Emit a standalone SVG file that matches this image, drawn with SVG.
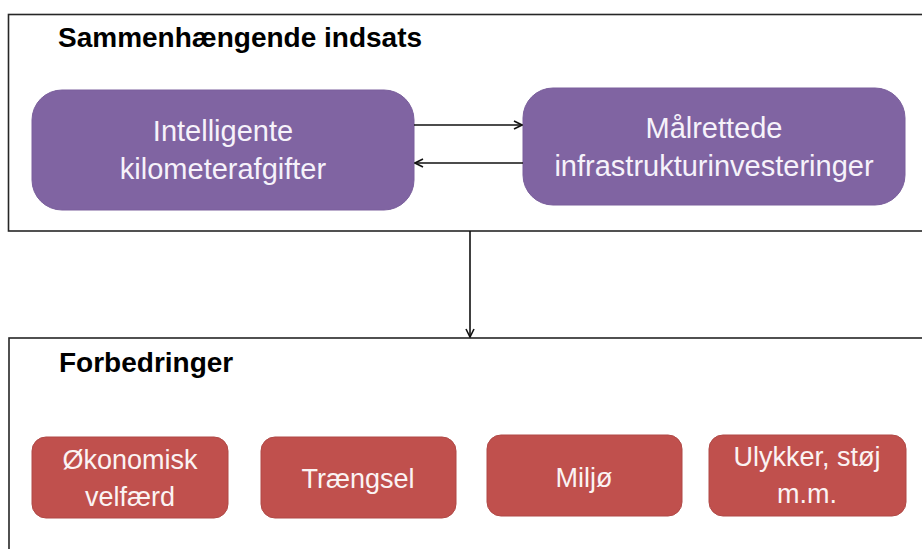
<svg xmlns="http://www.w3.org/2000/svg" width="922" height="549" viewBox="0 0 922 549">
<style>
.frame{fill:#fff;stroke:#262626;stroke-width:1.6}
.title{font-family:"Liberation Sans",Arial,sans-serif;font-weight:bold;font-size:28px;fill:#000}
.purple rect{fill:#8064A2;stroke:#7a5f9c;stroke-width:1}
.red rect{fill:#C0504D;stroke:#b04946;stroke-width:1}
.purple text{font-family:"Liberation Sans",Arial,sans-serif;font-size:29px;fill:#f6f2fa;text-anchor:middle}
.red text{font-family:"Liberation Sans",Arial,sans-serif;font-size:27px;fill:#fbf3f3;text-anchor:middle}
.conn{stroke:#111;stroke-width:1.6;fill:none}
</style>
<defs>
<marker id="arr" viewBox="0 0 10 10" refX="9" refY="5" markerWidth="10" markerHeight="10" markerUnits="userSpaceOnUse" orient="auto">
<path d="M1,1 L9,5 L1,9" fill="none" stroke="#111" stroke-width="1.6"/>
</marker>
</defs>
<g id="frame-top">
<rect class="frame" x="8.5" y="14.5" width="930" height="216.5"/>
<text class="title" x="58" y="47">Sammenhængende indsats</text>
</g>
<g id="frame-bottom">
<rect class="frame" x="9" y="338" width="930" height="240"/>
<text class="title" x="59" y="372">Forbedringer</text>
</g>
<g id="n-km" class="purple">
<rect x="32" y="90" width="382" height="120" rx="30"/>
<text x="223" y="141">Intelligente</text>
<text x="223" y="179">kilometerafgifter</text>
</g>
<g id="n-infra" class="purple">
<rect x="523" y="88" width="382" height="117" rx="30"/>
<text x="714" y="138">Målrettede</text>
<text x="714" y="176">infrastrukturinvesteringer</text>
</g>
<g id="n-oek" class="red">
<rect x="32" y="437" width="196" height="81" rx="14"/>
<text x="130" y="469">Økonomisk</text>
<text x="130" y="506">velfærd</text>
</g>
<g id="n-traeng" class="red">
<rect x="261" y="437" width="195" height="81" rx="14"/>
<text x="358" y="488">Trængsel</text>
</g>
<g id="n-miljo" class="red">
<rect x="487" y="435" width="195" height="81" rx="14"/>
<text x="584" y="487">Miljø</text>
</g>
<g id="n-ulykker" class="red">
<rect x="709" y="435" width="197" height="81" rx="14"/>
<text x="807" y="466">Ulykker, støj</text>
<text x="807" y="503">m.m.</text>
</g>
<g id="connectors">
<line class="conn" x1="414" y1="125" x2="522" y2="125" marker-end="url(#arr)"/>
<line class="conn" x1="523" y1="163" x2="415" y2="163" marker-end="url(#arr)"/>
<line class="conn" x1="470" y1="231" x2="470" y2="337" marker-end="url(#arr)"/>
</g>
</svg>
